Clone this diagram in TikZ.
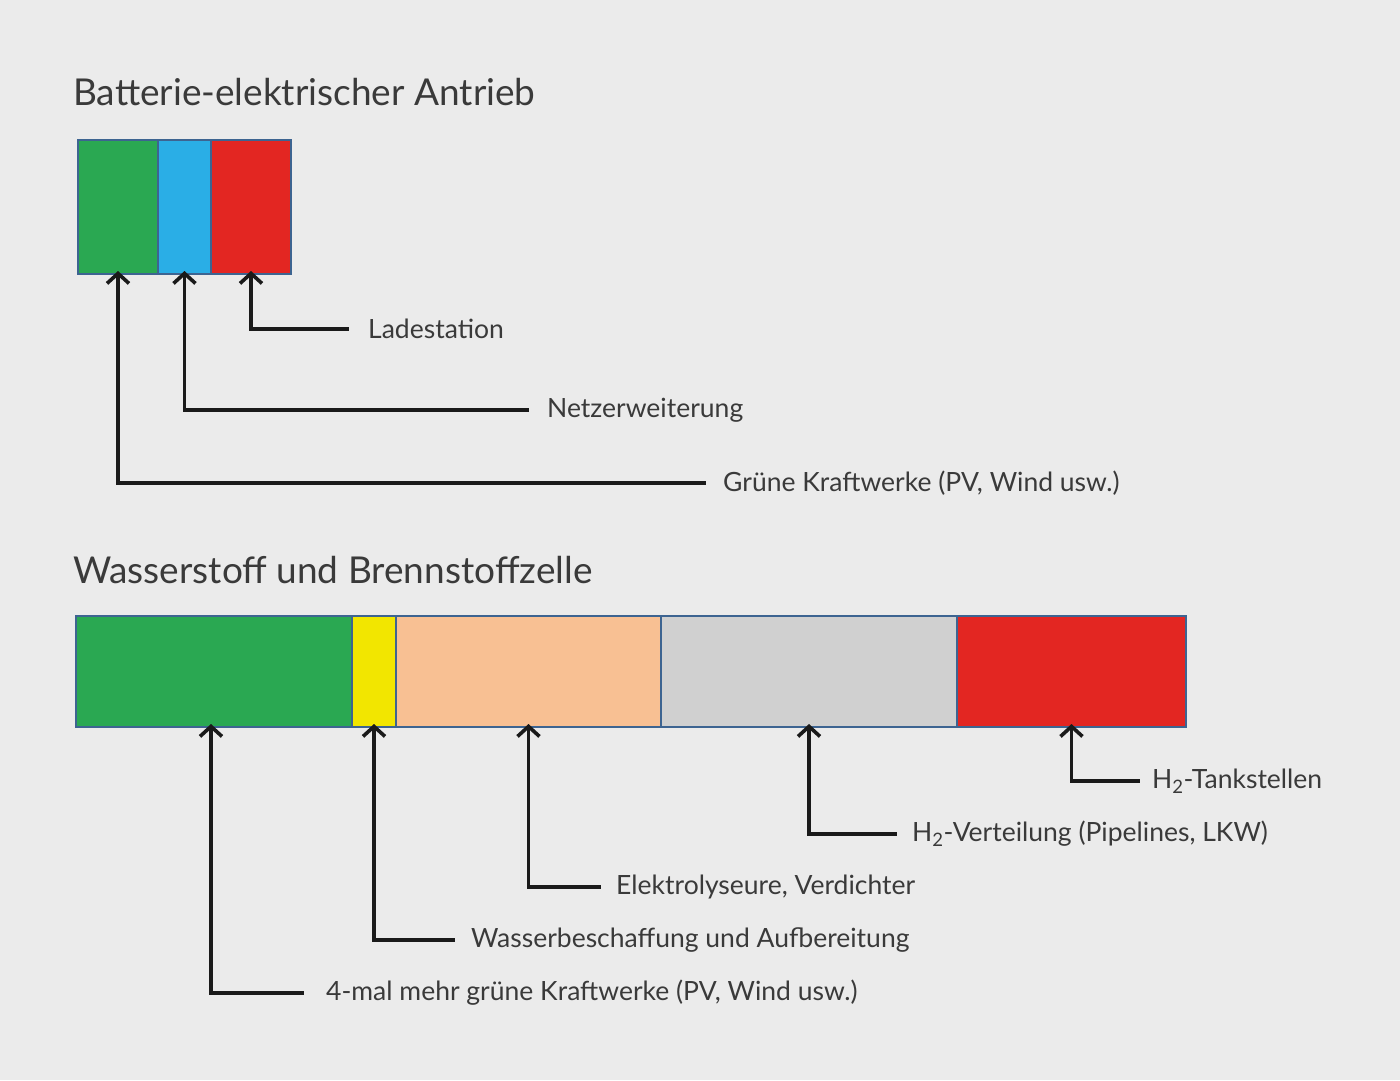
\documentclass[tikz,border=0pt]{standalone}
\usepackage{fontspec}
\setmainfont{Lato}
\usetikzlibrary{arrows.meta}
\definecolor{bgc}{HTML}{EBEBEB}
\definecolor{edge}{HTML}{3D6491}
\definecolor{cgreen}{HTML}{2AA852}
\definecolor{cblue}{HTML}{2AAEE6}
\definecolor{cred}{HTML}{E32622}
\definecolor{cyellow}{HTML}{F2E600}
\definecolor{cpeach}{HTML}{F8C093}
\definecolor{cgray}{HTML}{D0D0D0}
\definecolor{txt}{HTML}{3A3A3A}
\definecolor{ln}{HTML}{1A1A1A}
\begin{document}
\begin{tikzpicture}[x=1pt,y=-1pt,
  seg/.style={draw=edge, line width=2pt, inner sep=0pt, outer sep=0pt},
  ttl/.style={anchor=west, inner sep=0pt, text=txt, font=\fontsize{37}{44}\selectfont},
  lbl/.style={anchor=west, inner sep=0pt, text=txt, font=\fontsize{26.5}{31}\selectfont},
  arr/.style={draw=ln, line width=3.6pt, {Straight Barb[length=10pt,width=22pt,line width=3.6pt]}-}
]
\fill[bgc] (0,0) rectangle (1400,1080);
\useasboundingbox (0,0) rectangle (1400,1080);

% Titles
\node[ttl] (t1) at (73,92) {Batterie-elektrischer Antrieb};
\node[ttl] (t2) at (73,570) {Wasserstoff und Brennstoffzelle};

% Top bar
\node[seg, fill=cgreen, minimum width=80pt, minimum height=134pt] (a1) at (118,207) {};
\node[seg, fill=cblue, minimum width=53pt, minimum height=134pt] (a2) at (184.5,207) {};
\node[seg, fill=cred, minimum width=80pt, minimum height=134pt] (a3) at (251,207) {};

% Top labels
\node[lbl] (la3) at (368,329) {Ladestation};
\node[lbl] (la2) at (547,410) {Netzerweiterung};
\node[lbl] (la1) at (723,483) {Grüne Kraftwerke (PV, Wind usw.)};

\draw[arr] ([yshift=3pt]a3.south) |- ([xshift=-19pt]la3.west);
\draw[arr] ([yshift=3pt]a2.south) |- ([xshift=-18pt]la2.west);
\draw[arr] ([yshift=3pt]a1.south) |- ([xshift=-17pt]la1.west);

% Bottom bar
\node[seg, fill=cgreen, minimum width=276pt, minimum height=111pt] (b1) at (214,671.5) {};
\node[seg, fill=cyellow, minimum width=44pt, minimum height=111pt] (b2) at (374,671.5) {};
\node[seg, fill=cpeach, minimum width=265pt, minimum height=111pt] (b3) at (528.5,671.5) {};
\node[seg, fill=cgray, minimum width=296pt, minimum height=111pt] (b4) at (809,671.5) {};
\node[seg, fill=cred, minimum width=229pt, minimum height=111pt] (b5) at (1071.5,671.5) {};

% Bottom labels
\node[lbl] (lb5) at (1152,781) {H\textsubscript{2}-Tankstellen};
\node[lbl] (lb4) at (912,834) {H\textsubscript{2}-Verteilung (Pipelines, LKW)};
\node[lbl] (lb3) at (616,887) {Elektrolyseure, Verdichter};
\node[lbl] (lb2) at (471,940) {Wasserbeschaffung und Aufbereitung};
\node[lbl] (lb1) at (326,993) {4-mal mehr grüne Kraftwerke (PV, Wind usw.)};

\draw[arr] ([yshift=3pt]b5.south) |- ([xshift=-12pt]lb5.west);
\draw[arr] ([yshift=3pt]b4.south) |- ([xshift=-15pt]lb4.west);
\draw[arr] ([yshift=3pt]b3.south) |- ([xshift=-15pt]lb3.west);
\draw[arr] ([yshift=3pt]b2.south) |- ([xshift=-16pt]lb2.west);
\draw[arr] ([xshift=-3pt,yshift=3pt]b1.south) |- ([xshift=-22pt]lb1.west);
\end{tikzpicture}
\end{document}
